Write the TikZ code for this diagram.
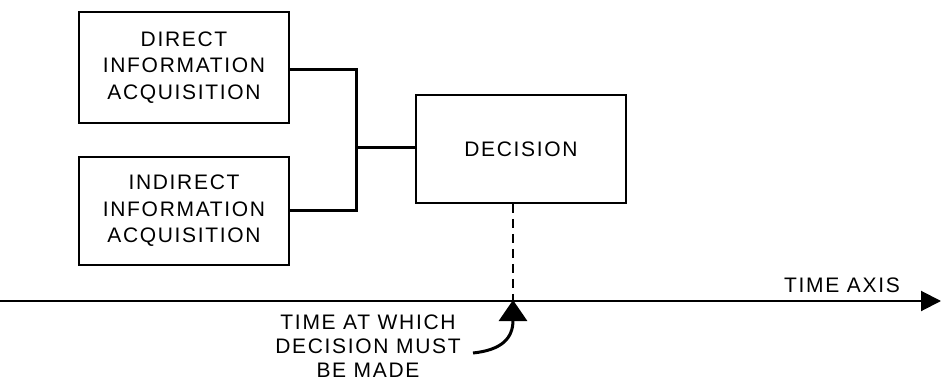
\documentclass[tikz,border=0pt]{standalone}
\usepackage{fontspec}
\setmainfont{Liberation Sans}[LetterSpace=8]
\usetikzlibrary{arrows.meta, positioning}

\begin{document}
\begin{tikzpicture}[
            x = 1pt, y = -1pt, % one unit per pixel, y downwards
            > = {Triangle[length=20pt, width=20pt]}, % arrow head style
            font = \fontsize{21}{26.5}\selectfont,
            line width = 2pt % line style
        ]

        \tikzstyle{every block}=[
            draw = black,
            line width = 1.6pt,
            align = center,
            inner sep = 0pt
        ]
        \tikzstyle{block}=[every block, minimum width = 210pt]

        \useasboundingbox (0,0) rectangle (941,387);

        \node[block, minimum height = 111pt] (direct) at (184,67.5) {DIRECT\\INFORMATION\\ACQUISITION};
        \node[block, minimum height = 108pt] (indirect) at (184,211) {INDIRECT\\INFORMATION\\ACQUISITION};
        \node[block, minimum height = 108pt] (decision) at (521,149) {DECISION};
        \node (axis) at (842,285) {TIME AXIS};
        \node[align = center, font = \fontsize{21}{24}\selectfont] (deadline) at (368,346) {TIME AT WHICH\\DECISION MUST\\BE MADE};

        \coordinate (start) at (0,301);
        \coordinate (end) at (941,301);
        \coordinate (due) at (513,301);
        \coordinate (join) at (356,148);
        \coordinate (hook) at (473,353);

        \draw[line width = 3pt] ([yshift=-2.5pt]direct.east) -| (join);
        \draw[line width = 3pt] (indirect.east) -| (join);
        \draw[line width = 3pt] (join) -- (decision.west |- join);
        \draw[dashed, line width = 1.5pt, dash pattern = on 9pt off 6pt] (due |- decision.south) -- (due);
        \draw[->] (start) -- (end);
        \draw[-{Triangle[length=21pt, width=28pt]}, line width = 3pt] (hook) .. controls (502,350) and (513,338) .. ([yshift=1pt]due);

  \end{tikzpicture}
\end{document}
